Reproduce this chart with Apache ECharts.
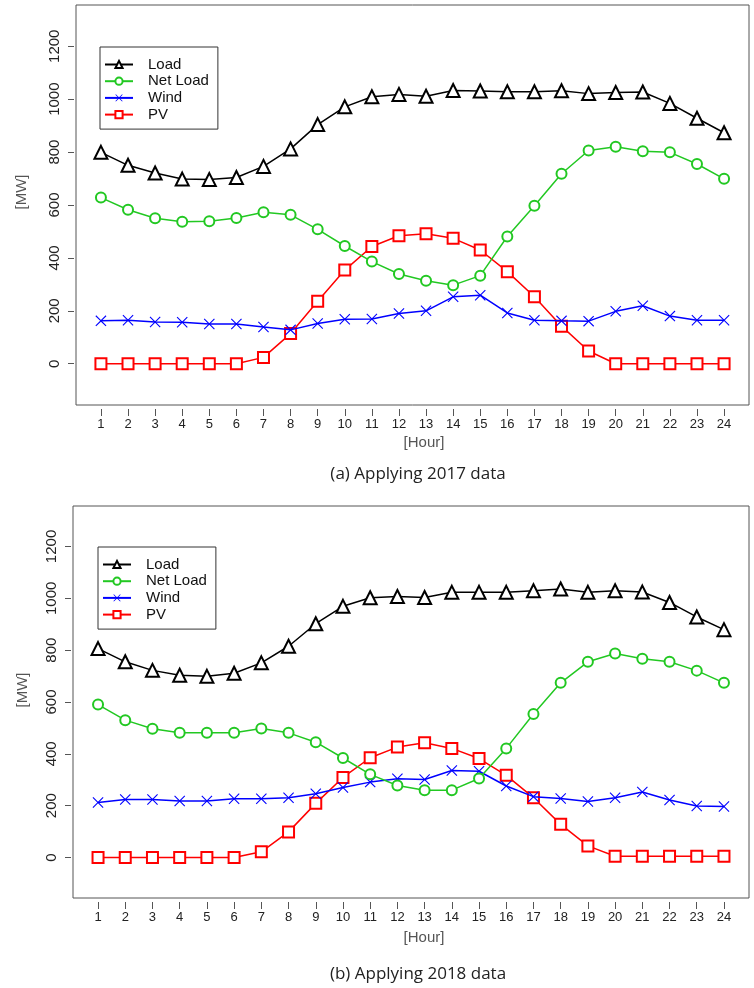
<!DOCTYPE html>
<html>
<head>
<meta charset="utf-8">
<script src="https://cdn.jsdelivr.net/npm/echarts/dist/echarts.min.js"></script>
<style>
html,body{margin:0;padding:0;background:#fff;}
#chart{width:754px;height:988px;}
</style>
</head>
<body>
<div id="chart"></div>
<script>
// ---- data ----
const hours = [1,2,3,4,5,6,7,8,9,10,11,12,13,14,15,16,17,18,19,20,21,22,23,24];
const yTicks = [0,200,400,600,800,1000,1200];
const seriesNames = ['Load','Net Load','Wind','PV'];

// (a) 2017
const load2017    = [799,750,721,698,696,704,746,812,904,971,1009,1018,1011,1033,1031,1028,1028,1032,1021,1025,1027,984,928,873];
const netLoad2017 = [628,582,550,537,539,551,573,563,508,445,386,339,314,297,333,481,597,718,806,820,803,799,755,699];
const wind2017    = [162,164,158,157,150,150,139,128,152,168,169,190,200,253,259,192,164,162,161,198,219,180,164,164];
const pv2017      = [0,0,0,0,0,0,24,114,236,354,443,484,491,474,430,348,253,142,48,0,0,0,0,0];

// (b) 2018
const load2018    = [806,755,722,703,699,711,751,815,902,969,1002,1007,1003,1023,1023,1023,1029,1036,1023,1029,1024,984,928,879];
const netLoad2018 = [590,530,497,481,481,481,498,481,445,384,321,278,260,260,305,421,554,674,755,787,767,755,721,674];
const wind2018    = [212,224,224,218,218,227,227,231,246,270,291,304,301,336,333,276,235,228,216,231,253,222,199,197];
const pv2018      = [0,0,0,0,0,0,22,99,209,309,385,426,443,421,382,317,231,128,45,5,5,5,5,5];

const captions = ['(a) Applying 2017 data','(b) Applying 2018 data'];

// ---- styling ----
const colors = {'Load':'#000000','Net Load':'#22c822','Wind':'#0000ff','PV':'#ff0000'};
const crossPath = 'path://M0.7,0 L5,4.3 L9.3,0 L10,0.7 L5.7,5 L10,9.3 L9.3,10 L5,5.7 L0.7,10 L0,9.3 L4.3,5 L0,0.7 Z';
const symbols = {
  'Load':{symbol:'emptyTriangle',size:13, bw:1.3},
  'Net Load':{symbol:'emptyCircle',size:10, bw:1.3},
  'Wind':{symbol:crossPath,size:11, bw:0},
  'PV':{symbol:'emptyRect',size:11, bw:1.3}
};
const axisFont = 'Liberation Sans, Arial, sans-serif';

const grids = [
  {left:76, top:5, width:673, height:400},
  {left:73, top:506, width:676, height:392}
];
const dataSets = [
  [load2017, netLoad2017, wind2017, pv2017],
  [load2018, netLoad2018, wind2018, pv2018]
];

const option = {
  animation:false,
  backgroundColor:'#ffffff',
  grid: grids.map(g => Object.assign({show:true, borderColor:'#555', borderWidth:1, backgroundColor:'transparent', containLabel:false, outerBoundsMode:'none'}, g)),
  xAxis: grids.map((g,i) => ({
    type:'value', gridIndex:i, min:0.08, max:24.92,
    position:'bottom',
    offset:4,
    axisLine:{show:false, onZero:false},
    splitLine:{show:false},
    axisTick:{show:true, length:7, lineStyle:{color:'#555'}, customValues:hours},
    axisLabel:{show:true, customValues:hours, margin:9, color:'#222', fontFamily:axisFont, fontSize:13,
               formatter: v => String(v)}
  })),
  yAxis: grids.map((g,i) => ({
    type:'value', gridIndex:i, min:-156, max:1356,
    position:'left',
    offset:2,
    axisLine:{show:false, onZero:false},
    splitLine:{show:false},
    axisTick:{show:true, length:6, lineStyle:{color:'#555'}, customValues:yTicks},
    axisLabel:{show:true, customValues:yTicks, rotate:90, margin:12, color:'#222', fontFamily:axisFont, fontSize:15,
               formatter: v => String(v)}
  })),
  legend: [
    {left:100, top:47},
    {left:98, top:547}
  ].map(p => ({
    orient:'vertical', left:p.left, top:p.top,
    data:seriesNames,
    itemWidth:28, itemHeight:9, itemGap:1.7,
    padding:[10,9,7,4],
    borderColor:'#333', borderWidth:1,
    selectedMode:false,
    textStyle:{fontFamily:axisFont, fontSize:15, color:'#111', padding:[0,0,0,10]}
  })),
  series: [],
  graphic: []
};

dataSets.forEach((set, gi) => {
  set.forEach((vals, si) => {
    const name = seriesNames[si];
    option.series.push({
      type:'line', name:name, xAxisIndex:gi, yAxisIndex:gi,
      data: hours.map((h,k) => [h, vals[k]]),
      symbol: symbols[name].symbol, symbolSize: symbols[name].size,
      showAllSymbol:true,
      lineStyle:{color:colors[name], width:1.5},
      itemStyle:{color: colors[name], borderColor: colors[name], borderWidth:symbols[name].bw},
      emphasis:{disabled:true},
      z: 10 - si
    });
  });
});

// axis titles & captions
const mwY = [192, 690];
const mwX = [22, 23];
const hourY = [443, 938];
const capY = [474, 974];
[0,1].forEach(i => {
  option.graphic.push({
    type:'text', x:mwX[i], y:mwY[i], rotation:Math.PI/2,
    style:{text:'[MW]', fill:'#555', font:'15px Liberation Sans, Arial, sans-serif', align:'center', verticalAlign:'middle'}
  });
  option.graphic.push({
    type:'text', x:424, y:hourY[i],
    style:{text:'[Hour]', fill:'#555', font:'15px Liberation Sans, Arial, sans-serif', align:'center', verticalAlign:'middle'}
  });
  option.graphic.push({
    type:'text', x:418, y:capY[i],
    style:{text:captions[i], fill:'#222', font:'17px Open Sans, Noto Sans, sans-serif', align:'center', verticalAlign:'middle'}
  });
});

const chart = echarts.init(document.getElementById('chart'), null, {renderer:'canvas'});
chart.setOption(option);
</script>
</body>
</html>
